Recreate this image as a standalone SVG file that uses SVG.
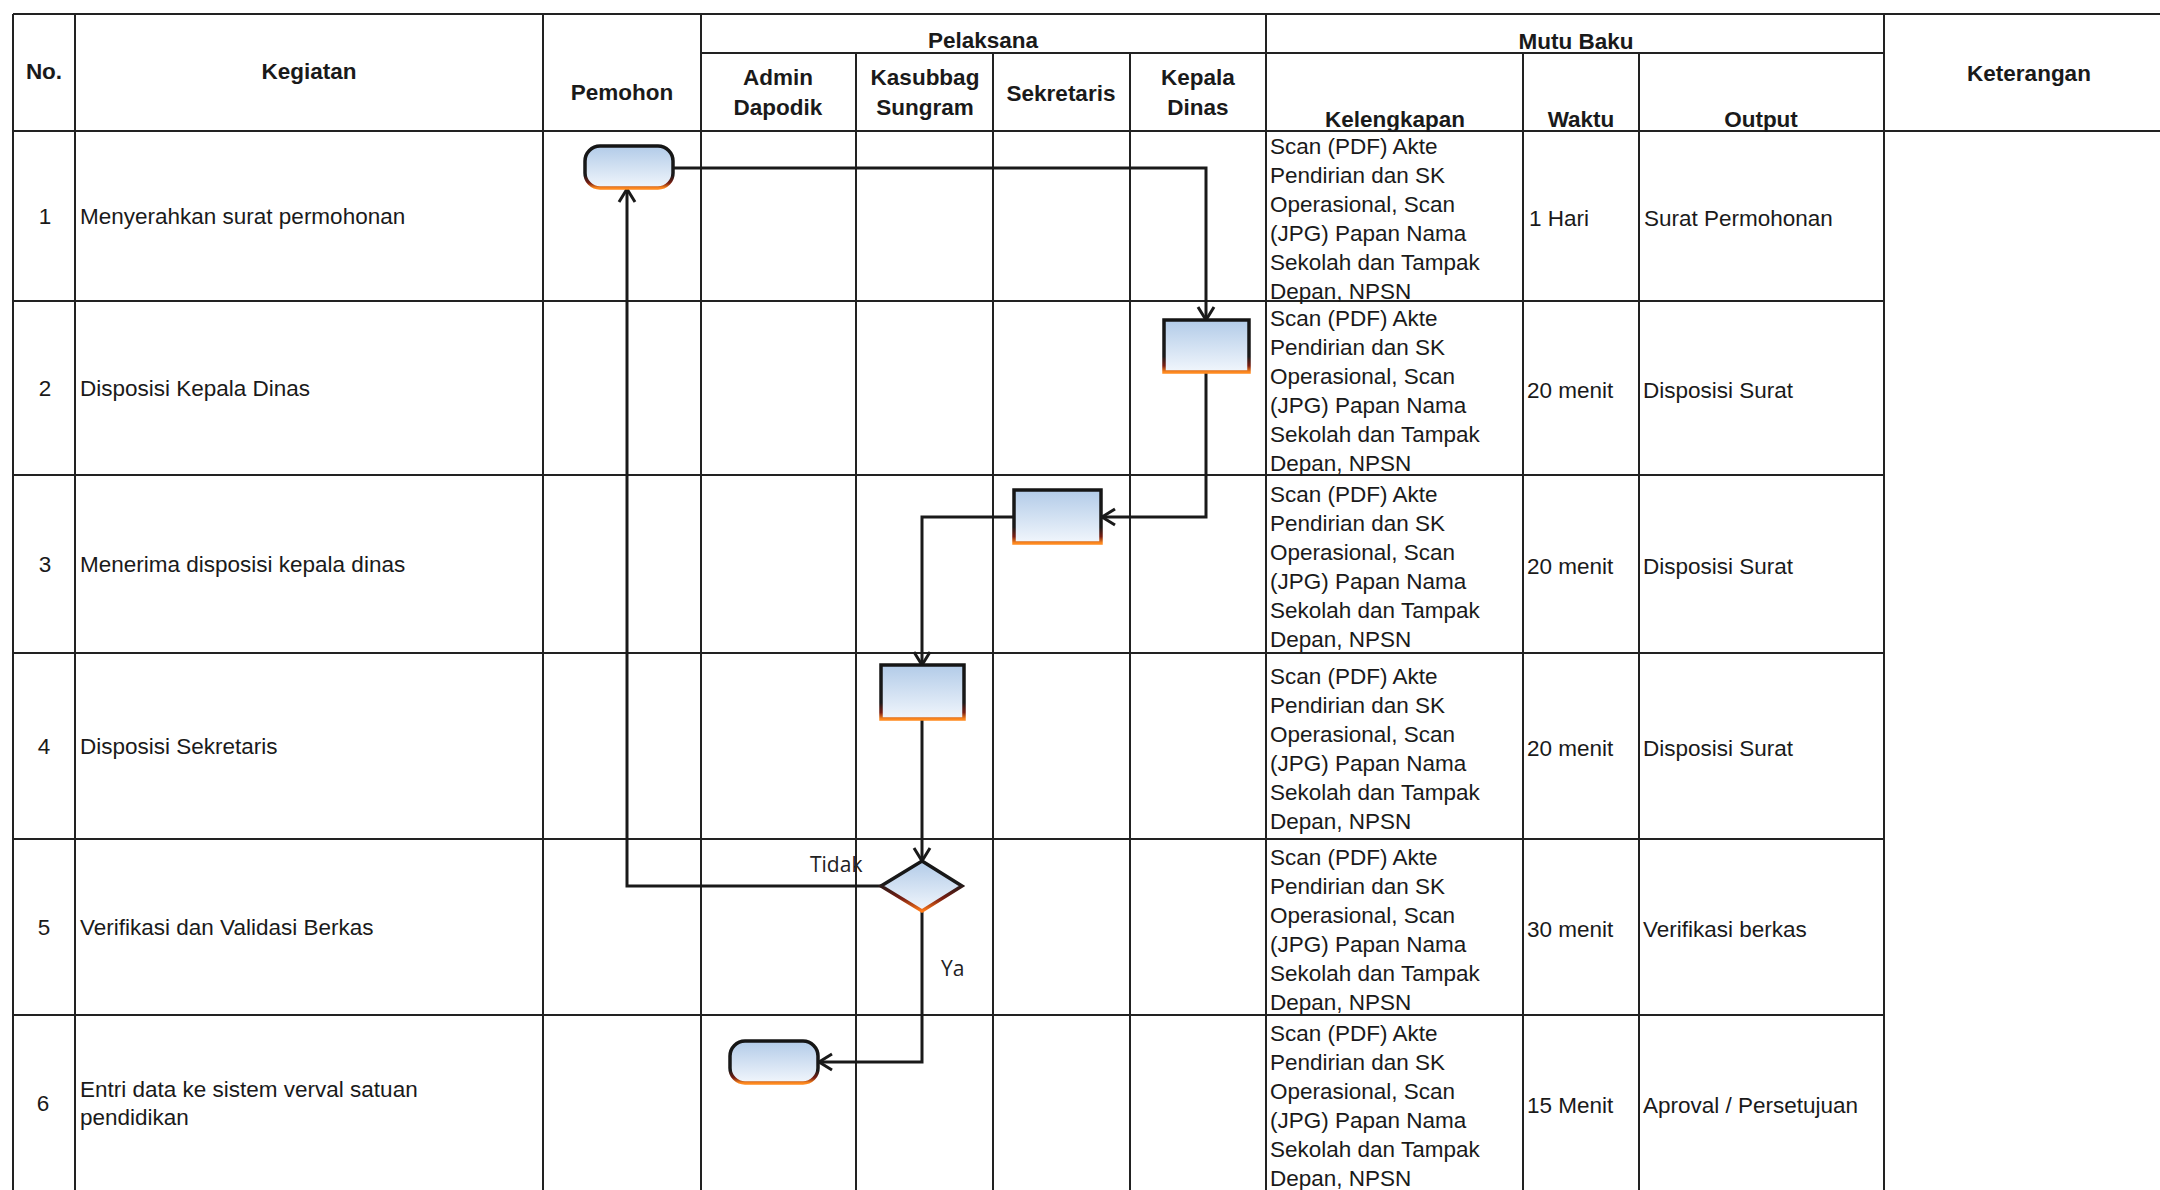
<svg xmlns="http://www.w3.org/2000/svg" width="2160" height="1190" viewBox="0 0 2160 1190">
<style>
.bg{fill:#ffffff}
.tl{stroke:#222;stroke-width:2;fill:none}
.h{font-family:"Liberation Sans",Arial,sans-serif;font-size:22.5px;font-weight:bold;fill:#1a1a1a}
.t{font-family:"Liberation Sans",Arial,sans-serif;font-size:22.5px;fill:#1a1a1a}
.c{text-anchor:middle}
.lbl{font-family:"Open Sans","Noto Sans",sans-serif;font-size:21px;fill:#222}
.shape{fill:url(#fillG);stroke:url(#strokeG);stroke-width:3.5}
.dia{fill:url(#fillG);stroke:url(#strokeD);stroke-width:3.5}
.conn{fill:none;stroke:#1a1a1a;stroke-width:3;marker-end:url(#arr)}
</style>
<defs>
<linearGradient id="fillG" x1="0" y1="0" x2="0" y2="1">
<stop offset="0" stop-color="#b2cbe8"/>
<stop offset="1" stop-color="#f1f6fc"/>
</linearGradient>
<linearGradient id="strokeG" x1="0" y1="0" x2="0" y2="1">
<stop offset="0" stop-color="#151515"/>
<stop offset="0.7" stop-color="#1a1a1a"/>
<stop offset="0.88" stop-color="#7a1e12"/>
<stop offset="1" stop-color="#ff8a1f"/>
</linearGradient>
<linearGradient id="strokeD" x1="0" y1="0" x2="0" y2="1">
<stop offset="0" stop-color="#151515"/>
<stop offset="0.45" stop-color="#1a1a1a"/>
<stop offset="0.75" stop-color="#7a1e12"/>
<stop offset="1" stop-color="#ff7a1a"/>
</linearGradient>
<marker id="arr" viewBox="-16 -10 18 20" refX="0" refY="0" markerWidth="18" markerHeight="20" markerUnits="userSpaceOnUse" orient="auto">
<path d="M-13,-8 L0,0 L-13,8" fill="none" stroke="#1a1a1a" stroke-width="3"/>
</marker>
</defs>
<rect class="bg" x="0" y="0" width="2160" height="1190"/>

<g id="table">
<path class="tl" d="M13,14 H2160 M701,53 H1884 M13,131 H2160 M13,301 H1884 M13,475 H1884 M13,653 H1884 M13,839 H1884 M13,1015 H1884"/>
<path class="tl" d="M13,14 V1190 M75,14 V1190 M543,14 V1190 M701,14 V1190 M856,53 V1190 M993,53 V1190 M1130,53 V1190 M1266,14 V1190 M1523,53 V1190 M1639,53 V1190 M1884,14 V1190"/>
<text class="h c" x="44" y="79">No.</text>
<text class="h c" x="309" y="79">Kegiatan</text>
<text class="h c" x="622" y="100">Pemohon</text>
<text class="h c" x="983" y="48">Pelaksana</text>
<text class="h c" x="778" y="85">Admin</text>
<text class="h c" x="778" y="115">Dapodik</text>
<text class="h c" x="925" y="85">Kasubbag</text>
<text class="h c" x="925" y="115">Sungram</text>
<text class="h c" x="1061" y="101">Sekretaris</text>
<text class="h c" x="1198" y="85">Kepala</text>
<text class="h c" x="1198" y="115">Dinas</text>
<text class="h c" x="1576" y="49">Mutu Baku</text>
<text class="h c" x="1395" y="127">Kelengkapan</text>
<text class="h c" x="1581" y="127">Waktu</text>
<text class="h c" x="1761" y="127">Output</text>
<text class="h c" x="2029" y="81">Keterangan</text>

<g id="row1">
<text class="t c" x="45" y="224">1</text>
<text class="t" x="80" y="224">Menyerahkan surat permohonan</text>
<text class="t" x="1270" y="154"><tspan x="1270">Scan (PDF) Akte</tspan><tspan x="1270" dy="29">Pendirian dan SK</tspan><tspan x="1270" dy="29">Operasional, Scan</tspan><tspan x="1270" dy="29">(JPG) Papan Nama</tspan><tspan x="1270" dy="29">Sekolah dan Tampak</tspan><tspan x="1270" dy="29">Depan, NPSN</tspan></text>
<text class="t" x="1529" y="226">1 Hari</text>
<text class="t" x="1644" y="226">Surat Permohonan</text>
</g>
<g id="row2">
<text class="t c" x="45" y="396">2</text>
<text class="t" x="80" y="396">Disposisi Kepala Dinas</text>
<text class="t" x="1270" y="326"><tspan x="1270">Scan (PDF) Akte</tspan><tspan x="1270" dy="29">Pendirian dan SK</tspan><tspan x="1270" dy="29">Operasional, Scan</tspan><tspan x="1270" dy="29">(JPG) Papan Nama</tspan><tspan x="1270" dy="29">Sekolah dan Tampak</tspan><tspan x="1270" dy="29">Depan, NPSN</tspan></text>
<text class="t" x="1527" y="398">20 menit</text>
<text class="t" x="1643" y="398">Disposisi Surat</text>
</g>
<g id="row3">
<text class="t c" x="45" y="572">3</text>
<text class="t" x="80" y="572">Menerima disposisi kepala dinas</text>
<text class="t" x="1270" y="502"><tspan x="1270">Scan (PDF) Akte</tspan><tspan x="1270" dy="29">Pendirian dan SK</tspan><tspan x="1270" dy="29">Operasional, Scan</tspan><tspan x="1270" dy="29">(JPG) Papan Nama</tspan><tspan x="1270" dy="29">Sekolah dan Tampak</tspan><tspan x="1270" dy="29">Depan, NPSN</tspan></text>
<text class="t" x="1527" y="574">20 menit</text>
<text class="t" x="1643" y="574">Disposisi Surat</text>
</g>
<g id="row4">
<text class="t c" x="44" y="754">4</text>
<text class="t" x="80" y="754">Disposisi Sekretaris</text>
<text class="t" x="1270" y="684"><tspan x="1270">Scan (PDF) Akte</tspan><tspan x="1270" dy="29">Pendirian dan SK</tspan><tspan x="1270" dy="29">Operasional, Scan</tspan><tspan x="1270" dy="29">(JPG) Papan Nama</tspan><tspan x="1270" dy="29">Sekolah dan Tampak</tspan><tspan x="1270" dy="29">Depan, NPSN</tspan></text>
<text class="t" x="1527" y="756">20 menit</text>
<text class="t" x="1643" y="756">Disposisi Surat</text>
</g>
<g id="row5">
<text class="t c" x="44" y="935">5</text>
<text class="t" x="80" y="935">Verifikasi dan Validasi Berkas</text>
<text class="t" x="1270" y="865"><tspan x="1270">Scan (PDF) Akte</tspan><tspan x="1270" dy="29">Pendirian dan SK</tspan><tspan x="1270" dy="29">Operasional, Scan</tspan><tspan x="1270" dy="29">(JPG) Papan Nama</tspan><tspan x="1270" dy="29">Sekolah dan Tampak</tspan><tspan x="1270" dy="29">Depan, NPSN</tspan></text>
<text class="t" x="1527" y="937">30 menit</text>
<text class="t" x="1643" y="937">Verifikasi berkas</text>
</g>
<g id="row6">
<text class="t c" x="43" y="1111">6</text>
<text class="t" x="80" y="1097">Entri data ke sistem verval satuan</text>
<text class="t" x="80" y="1125">pendidikan</text>
<text class="t" x="1270" y="1041"><tspan x="1270">Scan (PDF) Akte</tspan><tspan x="1270" dy="29">Pendirian dan SK</tspan><tspan x="1270" dy="29">Operasional, Scan</tspan><tspan x="1270" dy="29">(JPG) Papan Nama</tspan><tspan x="1270" dy="29">Sekolah dan Tampak</tspan><tspan x="1270" dy="29">Depan, NPSN</tspan></text>
<text class="t" x="1527" y="1113">15 Menit</text>
<text class="t" x="1643" y="1113">Aproval / Persetujuan</text>
</g>
</g>

<g id="connectors">
<path class="conn" d="M673,168 H1206 V320"/>
<path class="conn" d="M1206,372 V517 H1102"/>
<path class="conn" d="M1014,517 H922 V665"/>
<path class="conn" d="M922,719 V861"/>
<path class="conn" d="M881,886 H627 V189"/>
<path class="conn" d="M922,911 V1062 H819"/>
<text class="lbl" x="810" y="872">Tidak</text>
<text class="lbl" x="941" y="976">Ya</text>
</g>

<g id="n1"><rect class="shape" x="585" y="146" width="88" height="42" rx="15"/></g>
<g id="n2"><rect class="shape" x="1164" y="320" width="85" height="52"/></g>
<g id="n3"><rect class="shape" x="1014" y="490" width="87" height="53"/></g>
<g id="n4"><rect class="shape" x="881" y="665" width="83" height="54"/></g>
<g id="n5"><polygon class="dia" points="922,861 962,886 922,911 881,886"/></g>
<g id="n6"><rect class="shape" x="730" y="1041" width="88" height="42" rx="15"/></g>
</svg>
